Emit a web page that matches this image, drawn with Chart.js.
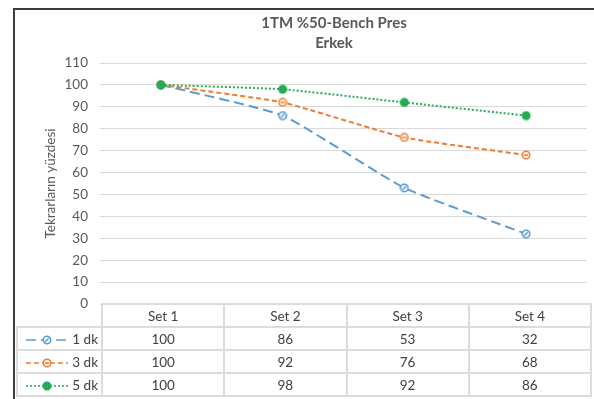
<!DOCTYPE html>
<html>
<head>
<meta charset="utf-8">
<script src="https://cdn.jsdelivr.net/npm/chart.js@4"></script>
<style>
  body { margin: 0; background: #fff; }
  #wrap { position: relative; width: 594px; height: 399px; font-family: Lato, "Open Sans", sans-serif; }
  #chart { position: absolute; left: 0; top: 0; }
  #frame { position: absolute; left: 13px; top: 8px; right: 0; bottom: 0; border-top: 2px solid #3a3a3a; border-left: 2px solid #3a3a3a; }
  #tbl { position: absolute; left: 16px; top: 303px; width: 576px; border-collapse: collapse; table-layout: fixed; color: #404040; font-size: 13.5px; }
  #tbl td { border: 2px solid #dcdcdc; text-align: center; padding: 0; height: 21px; }
  #tbl td.corner { border-top: none; border-left: none; }
  #tbl td.key { text-align: right; padding-right: 3px; white-space: nowrap; }
  #tbl td.key canvas { vertical-align: middle; margin-right: 2px; }
</style>
</head>
<body>
<div id="wrap">
  <canvas id="chart" width="594" height="399"></canvas>
  <div id="frame"></div>
  <table id="tbl"></table>
</div>
<script>
// data
const categories = ["Set 1", "Set 2", "Set 3", "Set 4"];
const seriesNames = ["1 dk", "3 dk", "5 dk"];
const dk1 = [100, 86, 53, 32];
const dk3 = [100, 92, 76, 68];
const dk5 = [100, 98, 92, 86];
const yTicks = { min: 0, max: 110, step: 10 };
const titleLines = ["1TM %50-Bench Pres", "Erkek"];
const yTitle = "Tekrarların yüzdesi";

const colors = ["#5B9BD5", "#ED7D31", "#22AD55"];
const dashes = [[10, 5], [5, 3], [2, 2]];

// marker images
function makeMarker(color, kind) {
  const c = document.createElement("canvas");
  c.width = 10;
  c.height = 10;
  const g = c.getContext("2d");
  g.beginPath();
  g.arc(5, 5, 3.7, 0, Math.PI * 2);
  g.fillStyle = kind === "fill" ? color : "#fff";
  g.fill();
  g.lineWidth = 1.6;
  g.strokeStyle = color;
  g.stroke();
  if (kind === "slash") {
    g.beginPath();
    g.moveTo(3.3, 6.7);
    g.lineTo(6.7, 3.3);
    g.stroke();
  } else if (kind === "bar") {
    g.beginPath();
    g.moveTo(3, 5);
    g.lineTo(7, 5);
    g.stroke();
  }
  return c;
}
const markers = [
  makeMarker(colors[0], "slash"),
  makeMarker(colors[1], "bar"),
  makeMarker(colors[2], "fill"),
];

const seriesData = [dk1, dk3, dk5];

// table under the plot
const tbl = document.getElementById("tbl");
let html = '<colgroup><col style="width:85px">';
categories.forEach(() => (html += "<col>"));
html += '</colgroup><tr><td class="corner"></td>';
categories.forEach((c) => (html += "<td>" + c + "</td>"));
html += "</tr>";
seriesNames.forEach((name, i) => {
  html += '<tr><td class="key"><canvas id="key' + i + '" width="46" height="12"></canvas>' + name + "</td>";
  seriesData[i].forEach((v) => (html += "<td>" + v + "</td>"));
  html += "</tr>";
});
tbl.innerHTML = html;

seriesNames.forEach((name, i) => {
  const g = document.getElementById("key" + i).getContext("2d");
  g.strokeStyle = colors[i];
  g.lineWidth = 1.6;
  g.setLineDash(dashes[i]);
  g.beginPath();
  g.moveTo(2, 6);
  g.lineTo(44, 6);
  g.stroke();
  g.drawImage(markers[i], 18, 1);
});

const titlePlugin = {
  id: "twoLineTitle",
  afterDraw(chart) {
    const g = chart.ctx;
    g.save();
    g.fillStyle = "#595959";
    g.font = "bold 15px Lato";
    g.textAlign = "center";
    g.textBaseline = "middle";
    g.fillText(titleLines[0], 334, 23);
    g.fillText(titleLines[1], 334, 43);
    g.restore();
  },
};

const ctx = document.getElementById("chart").getContext("2d");
new Chart(ctx, {
  type: "line",
  data: {
    labels: categories,
    datasets: seriesNames.map((name, i) => ({
      label: name,
      data: seriesData[i],
      borderColor: colors[i],
      borderWidth: 2,
      borderDash: dashes[i],
      pointStyle: markers[i],
      pointRadius: 5,
      fill: false,
      tension: 0.15,
      order: 2 - i,
    })),
  },
  options: {
    responsive: false,
    animation: false,
    layout: { padding: { left: 14, right: 3, top: 63, bottom: 95 } },
    plugins: {
      legend: { display: false },
      title: { display: false },
      tooltip: { enabled: false },
    },
    scales: {
      x: { display: false, offset: true },
      y: {
        min: yTicks.min,
        max: yTicks.max,
        ticks: {
          stepSize: yTicks.step,
          color: "#595959",
          font: { family: "Lato", size: 13.5 },
          padding: 12,
        },
        grid: { color: "#d9d9d9", drawTicks: false },
        border: { display: false },
        title: {
          display: true,
          text: yTitle,
          color: "#595959",
          font: { family: "Lato", size: 13.5 },
          padding: { top: 29, bottom: 0 },
        },
        afterFit(scale) {
          scale.width = 86;
        },
      },
    },
  },
  plugins: [titlePlugin],
});
</script>
</body>
</html>
